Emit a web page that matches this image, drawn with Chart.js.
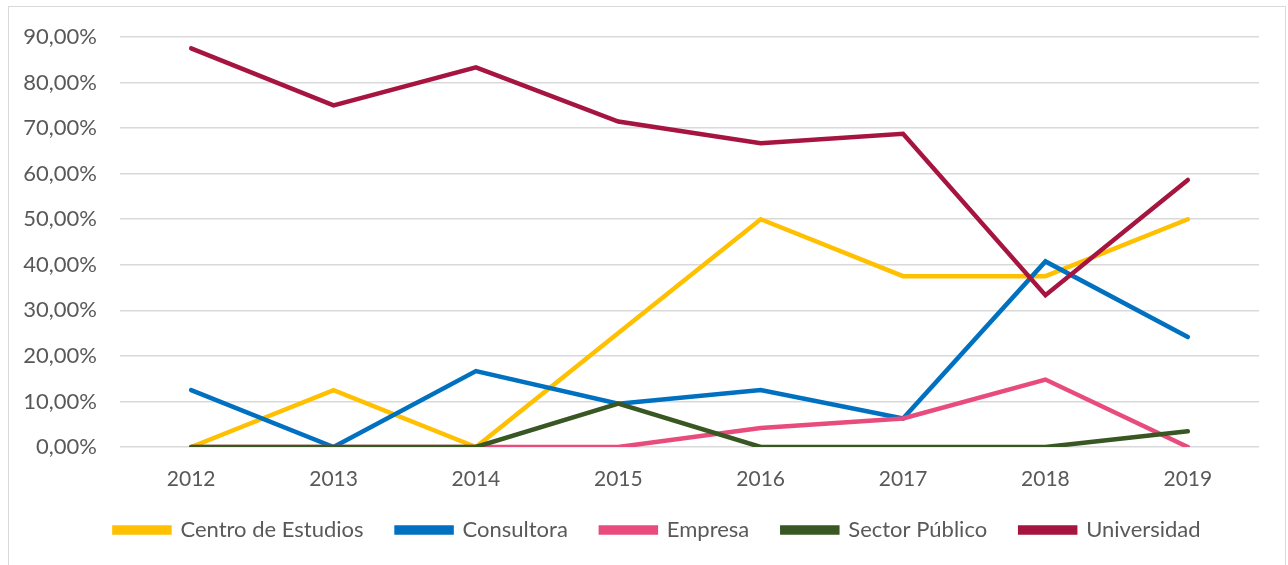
<!DOCTYPE html>
<html>
<head>
<meta charset="utf-8">
<script src="https://cdn.jsdelivr.net/npm/chart.js@4"></script>
<style>
  html, body { margin: 0; padding: 0; background: #fff; }
  #wrap { width: 1288px; height: 565px; }
</style>
</head>
<body>
<div id="wrap"><canvas id="grafica" width="1288" height="565"></canvas></div>
<script>
// datos (en %)
const anios = ['2012', '2013', '2014', '2015', '2016', '2017', '2018', '2019'];
const centroEstudios = [0, 12.5, 0, 25, 50, 37.5, 37.5, 50];
const consultora = [12.5, 0, 16.67, 9.52, 12.5, 6.25, 40.74, 24.14];
const empresa = [0, 0, 0, 0, 4.17, 6.25, 14.81, 0];
const sectorPublico = [0, 0, 0, 9.52, 0, 0, 0, 3.45];
const universidad = [87.5, 75, 83.33, 71.43, 66.67, 68.75, 33.33, 58.62];

const series = [
    { nombre: 'Centro de Estudios', datos: centroEstudios, color: '#FFC000' },
    { nombre: 'Consultora', datos: consultora, color: '#0070C0' },
    { nombre: 'Empresa', datos: empresa, color: '#E84C7C' },
    { nombre: 'Sector Público', datos: sectorPublico, color: '#385723' },
    { nombre: 'Universidad', datos: universidad, color: '#A51540' }
];

const gris = '#595959';
const fuente = { family: 'Lato, "Noto Sans", sans-serif', size: 21 };

// marco gris alrededor del grafico
const marco = {
    id: 'marco',
    beforeDraw(chart) {
        const c = chart.ctx;
        c.save();
        c.fillStyle = '#fff';
        c.fillRect(0, 0, chart.width, chart.height);
        c.strokeStyle = '#D9D9D9';
        c.lineWidth = 1;
        c.strokeRect(8.5, 6.5, 1277, 570);
        c.restore();
    },
    // la leyenda va un poco a la derecha, como en el original
    afterLayout(chart) {
        if (chart.legend) {
            chart.legend.left += 28;
            chart.legend.right += 28;
        }
    }
};

new Chart(document.getElementById('grafica'), {
    type: 'line',
    data: {
        labels: anios,
        // la ultima serie va encima, como en Excel
        datasets: series.map((s, i) => ({
            label: s.nombre,
            data: s.datos,
            order: series.length - i,
            borderColor: s.color,
            backgroundColor: s.color,
            borderWidth: 4.5,
            pointRadius: 0,
            borderCapStyle: 'round',
            borderJoinStyle: 'miter',
            tension: 0
        }))
    },
    options: {
        responsive: false,
        animation: false,
        layout: { padding: { left: 0, right: 29, top: 37, bottom: 14 } },
        plugins: {
            legend: {
                position: 'bottom',
                labels: {
                    color: gris,
                    font: { family: fuente.family, size: 22 },
                    boxWidth: 55,
                    boxHeight: 5,
                    padding: 33,
                    sort: (a, b) => a.datasetIndex - b.datasetIndex
                }
            },
            tooltip: { enabled: false }
        },
        scales: {
            x: {
                offset: true,
                grid: { display: false },
                border: { display: false },
                ticks: { color: gris, font: fuente, padding: 12 },
                afterFit(s) { s.height = 39; }
            },
            y: {
                min: 0,
                max: 90,
                grid: { color: '#D9D9D9', lineWidth: 1.5, drawTicks: false },
                border: { display: false },
                ticks: {
                    stepSize: 10,
                    color: gris,
                    font: { family: fuente.family, size: 22 },
                    padding: 23,
                    callback: v => v.toFixed(2).replace('.', ',') + '%'
                },
                afterFit(s) { s.width = 120; }
            }
        }
    },
    plugins: [marco]
});
</script>
</body>
</html>
